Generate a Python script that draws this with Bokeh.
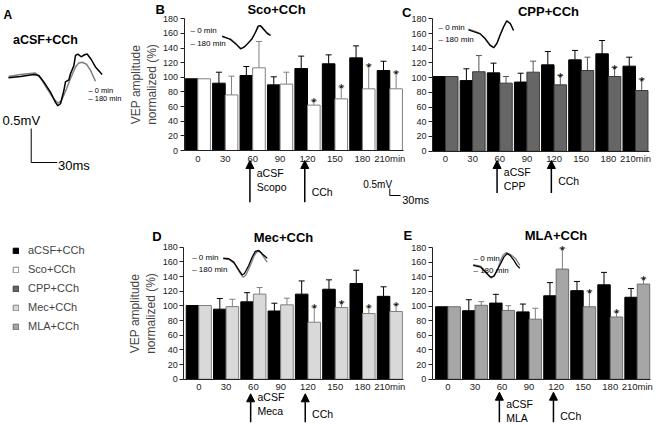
from bokeh.plotting import figure
from bokeh.models import (Range1d, LinearAxis, FixedTicker, ColumnDataSource, Whisker,
                          TeeHead, Arrow, NormalHead, Legend, LegendItem)
from bokeh.core.properties import value
from bokeh.embed import file_html
from bokeh.resources import INLINE

# ---------------- data ----------------
time_labels = ["0", "30", "60", "90", "120", "150", "180", "210min"]
y_ticks = [0, 20, 40, 60, 80, 100, 120, 140, 160, 180]
legend_labels = ["aCSF+CCh", "Sco+CCh", "CPP+CCh", "Mec+CCh", "MLA+CCh"]

# panel B: aCSF+CCh vs Sco+CCh
acsf_B = [98, 92, 102.5, 89.7, 112, 118.5, 126.6, 109.3]
acsf_B_err = [0, 15, 12.3, 11, 17, 12.2, 16.4, 12.7]
sco = [98, 76, 113, 90.7, 62, 70.6, 84.3, 84.3]
sco_err = [0, 25.6, 36, 16.3, 6, 16.4, 32.3, 22.7]
sco_sig = [0, 0, 0, 0, 1, 1, 1, 1]

# panel C: aCSF+CCh vs CPP+CCh
acsf_C = [101.5, 96, 106.5, 94, 117.4, 124.2, 132.4, 115.6]
acsf_C_err = [0, 16, 13.2, 12, 18.1, 12.8, 18.1, 12.2]
cpp = [101.5, 108, 92.5, 107.4, 90.2, 109.7, 101.5, 82.5]
cpp_err = [0, 22, 9, 15, 12.8, 18.1, 12.5, 15.5]
cpp_sig = [0, 0, 0, 0, 1, 0, 1, 1]

# panel D: aCSF+CCh vs Mec+CCh
acsf_D = [100.5, 95.5, 105.5, 93, 116, 122.7, 130.5, 113]
acsf_D_err = [0, 14.5, 12.5, 10.6, 18, 12.8, 18.1, 13]
mec = [100.5, 99, 116, 101.4, 77.7, 97.7, 89.5, 92.3]
mec_err = [0, 10, 9, 9.1, 20.9, 7.3, 9.1, 9.5]
mec_sig = [0, 0, 0, 0, 1, 1, 1, 1]

# panel E: aCSF+CCh vs MLA+CCh
acsf_E = [99, 93.6, 104, 92, 114, 121, 129, 112]
acsf_E_err = [0, 15, 12, 10.7, 18, 12.6, 17, 12]
mla = [99, 101, 94, 82, 150.5, 99, 85, 130]
mla_err = [0, 5, 6.5, 15, 28.5, 21.5, 7, 8]
mla_sig = [0, 0, 0, 0, 1, 1, 1, 1]

# panel A: VEP traces (ms, mV)
wave0_t = [0, 13.8, 29.2, 35, 40.7, 48.4, 54.2, 56.9, 60, 63.8, 65.7, 69.6, 71.5, 75.4,
           77.3, 80, 83.8, 87.7, 90.7, 95.4, 100.3, 108]
wave0_v = [-0.02, 0.0, 0.03, 0.015, -0.08, -0.23, -0.38, -0.43, -0.40, -0.21, -0.08, -0.05,
           0.04, 0.16, 0.31, 0.33, 0.29, 0.32, 0.33, 0.25, 0.14, 0.03]
wave180_t = [0, 13.8, 31.1, 36.9, 44.6, 52.3, 56.9, 60.8, 65.7, 71.5, 77.3, 81.1, 85, 90,
             94.6, 100.3]
wave180_v = [0.0, 0.03, 0.05, -0.02, -0.18, -0.33, -0.39, -0.36, -0.22, -0.03, 0.14, 0.20,
             0.21, 0.18, 0.09, -0.07]

# inset traces (relative units 0-100)
insB0_t = [0, 17, 28, 38, 45, 52, 62, 69, 74, 79, 86, 94, 100]
insB0_v = [54, 40, 21, 0, 7, 21, 43, 71, 97, 100, 83, 64, 57]
insB180_t = [0, 17, 31, 39, 48, 59, 67, 76, 83, 92, 100]
insB180_v = [51, 43, 17, 0, 11, 36, 64, 97, 93, 71, 60]
insC0_t = [0, 15, 26, 37, 48, 56, 63, 70, 78, 85, 93, 100]
insC0_v = [66, 57, 51, 33, 9, 0, 15, 45, 76, 98, 88, 63]
insC180_t = [0, 15, 26, 37, 48, 56, 63, 70, 78, 85, 93, 100]
insC180_v = [68, 60, 52, 35, 11, 2, 17, 48, 79, 100, 90, 65]
insD0_t = [0, 13, 24, 36, 43, 48, 58, 66, 73, 81, 89, 100]
insD0_v = [67, 65, 53, 24, 8, 12, 41, 71, 91, 94, 82, 67]
insD180_t = [0, 13, 26, 38, 45, 51, 61, 70, 77, 85, 92, 100]
insD180_v = [65, 62, 47, 15, 0, 6, 39, 74, 91, 88, 71, 53]
insE0_t = [0, 16, 26, 37, 44, 51, 59, 66, 73, 80, 87, 94, 100]
insE0_v = [50, 43, 24, 4, 7, 30, 57, 83, 96, 87, 70, 50, 39]
insE180_t = [0, 16, 29, 39, 46, 53, 59, 64, 71, 80, 91, 100]
insE180_v = [53, 47, 21, 0, 11, 37, 70, 89, 100, 92, 76, 50]

event_idx = [2, 4]  # 60 min and 120 min

# ---------------- layout helpers ----------------
X_LO, X_HI = 0.0, 662.0
Y_TOP, Y_BOT = 0.0, 425.0
W, H = 662, 425
FONT = "Liberation Sans"
BW = 0.46


def span(v1, p1, v2, p2, lo, hi):
    k = (v2 - v1) / (p2 - p1)
    return Range1d(start=v1 + (lo - p1) * k, end=v1 + (hi - p1) * k)


p = figure(width=W, height=H, x_range=Range1d(X_LO, X_HI), y_range=Range1d(Y_BOT, Y_TOP),
           x_axis_type=None, y_axis_type=None, toolbar_location=None,
           output_backend="svg", min_border=0, outline_line_color=None)


def txt(x, y, s, size="11px", style="normal", align="left", color="black",
        baseline="middle", xr="default", yr="default"):
    p.text(x=[x], y=[y], text=[s], text_font=value(FONT), text_font_size=size,
           text_font_style=style, text_align=align, text_baseline=baseline,
           text_color=color, x_range_name=xr, y_range_name=yr)


def add_panel(key, geo, ctrl, ctrl_err, trt, trt_err, sig, fill, line, err_col,
              ylabel, events, ev_y):
    c0, s, y0, y180, ax_x = geo
    p.extra_x_ranges[key] = span(0, c0, 1, c0 + s, X_LO, X_HI)
    p.extra_y_ranges[key] = span(0, y0, 180, y180, Y_BOT, Y_TOP)
    idx = list(range(len(ctrl)))
    xc = [i - BW / 2 for i in idx]
    xt = [i + BW / 2 for i in idx]
    src = ColumnDataSource(dict(xc=xc, xt=xt, ctrl=ctrl, trt=trt))
    rc = p.vbar(x="xc", top="ctrl", bottom=0, width=BW, source=src, fill_color="black",
                line_color="black", x_range_name=key, y_range_name=key)
    rt = p.vbar(x="xt", top="trt", bottom=0, width=BW, source=src, fill_color=fill,
                line_color=line, x_range_name=key, y_range_name=key)
    for xs, vals, errs, col in ((xc, ctrl, ctrl_err, "black"), (xt, trt, trt_err, err_col)):
        keep = [i for i in idx if errs[i] > 0]
        ws = ColumnDataSource(dict(x=[xs[i] for i in keep], lo=[vals[i] for i in keep],
                                   hi=[vals[i] + errs[i] for i in keep]))
        p.add_layout(Whisker(source=ws, base="x", lower="lo", upper="hi", dimension="height",
                             line_color=col, line_width=1, lower_head=None,
                             upper_head=TeeHead(size=6, line_color=col, line_width=1),
                             x_range_name=key, y_range_name=key))
    ks = [i for i in idx if sig[i]]
    p.text(x=[xt[i] for i in ks], y=[trt[i] + trt_err[i] for i in ks], text=["*"] * len(ks),
           text_font=value(FONT), text_font_size="13px", text_align="center",
           text_baseline="alphabetic", y_offset=2, x_range_name=key, y_range_name=key)

    yax = LinearAxis(x_range_name=key, y_range_name=key, fixed_location=ax_x, bounds=(0, 180),
                     ticker=FixedTicker(ticks=y_ticks), major_tick_out=4, major_tick_in=0,
                     minor_tick_line_color=None, axis_line_color="#222222",
                     major_tick_line_color="#222222", major_label_standoff=2,
                     major_label_text_font=FONT, major_label_text_font_size="9px",
                     major_label_text_color="#222222")
    if ylabel:
        yax.axis_label = ylabel
        yax.axis_label_text_font = FONT
        yax.axis_label_text_font_size = "12px"
        yax.axis_label_text_font_style = "normal"
        yax.axis_label_standoff = 1
    p.add_layout(yax, "left")
    xax = LinearAxis(x_range_name=key, y_range_name=key, fixed_location=0,
                     bounds=(ax_x, len(ctrl) - 0.5),
                     ticker=FixedTicker(ticks=idx),
                     major_label_overrides={i: lab for i, lab in enumerate(time_labels)},
                     major_tick_line_color=None, minor_tick_line_color=None,
                     major_tick_out=0, major_tick_in=0, minor_tick_out=0, minor_tick_in=0,
                     axis_line_color="#222222", major_label_standoff=2,
                     major_label_text_font=FONT, major_label_text_font_size="9.5px",
                     major_label_text_color="#222222")
    p.add_layout(xax, "below")

    # treatment arrows (60 min: drug, 120 min: CCh)
    y_bot, y_top, y_txt1, y_txt2 = ev_y
    for i in event_idx:
        p.add_layout(Arrow(x_start=i - 0.1, y_start=y_bot, x_end=i - 0.1, y_end=y_top,
                           line_width=1.5, line_color="black",
                           end=NormalHead(size=8, fill_color="black", line_color="black"),
                           x_range_name=key, y_range_name="default"))
    txt(event_idx[0] + 0.15, y_txt1, events[0], size="10.5px", baseline="top", xr=key)
    txt(event_idx[1] + 0.15, y_txt2, events[1], size="10.5px", baseline="middle", xr=key)
    return rc, rt


def add_inset(key, t0, v0, t1, v1, box, leg_xy):
    xa, xb, yb, yt = box
    p.extra_x_ranges[key] = span(0, xa, 100, xb, X_LO, X_HI)
    p.extra_y_ranges[key] = span(0, yb, 100, yt, Y_BOT, Y_TOP)
    p.line(t1, v1, line_color="#7f7f7f", line_width=1.3, x_range_name=key, y_range_name=key)
    p.line(t0, v0, line_color="black", line_width=1.3, x_range_name=key, y_range_name=key)
    lx, ly0, ly1 = leg_xy
    txt(lx, ly0, "\u2013 0 min", size="8px")
    txt(lx, ly1, "\u2013 180 min", size="8px")


# ---------------- panel A ----------------
p.extra_x_ranges["A"] = span(0, 8, 100, 94.7, X_LO, X_HI)
p.extra_y_ranges["A"] = span(1, 8, 0, 76, Y_BOT, Y_TOP)
p.line(wave180_t, wave180_v, line_color="#7f7f7f", line_width=1.5, x_range_name="A",
       y_range_name="A")
p.line(wave0_t, wave0_v, line_color="black", line_width=1.5, x_range_name="A",
       y_range_name="A")
# scale bar 0.5 mV / 30 ms
p.line([26.2, 26.2, 56.2], [-0.765, -1.265, -1.265], line_color="black", line_width=1,
       x_range_name="A", y_range_name="A")
txt(3, 14, "A", size="12px", style="bold")
txt(45, 39, "aCSF+CCh", size="12.5px", style="bold", align="center")
txt(88, 90, "\u2013 0 min", size="7.5px")
txt(88, 98, "\u2013 180 min", size="7.5px")
txt(2, 120, "0.5mV", size="13px")
txt(57.5, 165, "30ms", size="13px")

# ---------------- panels B-E ----------------
ylab = "VEP amplitude\nnormalized (%)"
rB_c, rB_t = add_panel("B", (197.3, 27.43, 150.0, 18.3, -0.5), acsf_B, acsf_B_err, sco, sco_err,
                       sco_sig, "white", "#808080", "#808080", ylab,
                       ["aCSF\nScopo", "CCh"], (201.7, 160, 166.5, 191.7))
rC_c, rC_t = add_panel("C", (445.0, 27.14, 150.7, 18.3, -0.48), acsf_C, acsf_C_err, cpp, cpp_err,
                       cpp_sig, "#666666", "#3a3a3a", "#555555", None,
                       ["aCSF\nCPP", "CCh"], (192.5, 160, 165.5, 180))
rD_c, rD_t = add_panel("D", (198.3, 27.29, 378.7, 246.7, -0.55), acsf_D, acsf_D_err, mec, mec_err,
                       mec_sig, "#d9d9d9", "#808080", "#808080", ylab,
                       ["aCSF\nMeca", "CCh"], (421.7, 393.3, 390.5, 413.3))
rE_c, rE_t = add_panel("E", (447.5, 27.04, 378.7, 247.0, -0.58), acsf_E, acsf_E_err, mla, mla_err,
                       mla_sig, "#a6a6a6", "#6e6e6e", "#808080", None,
                       ["aCSF\nMLA", "CCh"], (421.7, 391.7, 397.5, 415))

# panel titles and letters
txt(155, 9, "B", size="13px", style="bold")
txt(276, 9, "Sco+CCh", size="13px", style="bold", align="center")
txt(401.5, 11.5, "C", size="13px", style="bold")
txt(548, 11, "CPP+CCh", size="13px", style="bold", align="center")
txt(151.7, 236, "D", size="13px", style="bold")
txt(283, 236.7, "Mec+CCh", size="13px", style="bold", align="center")
txt(403, 235, "E", size="13px", style="bold")
txt(555.5, 235, "MLA+CCh", size="13px", style="bold", align="center")

# insets
add_inset("iB", insB0_t, insB0_v, insB180_t, insB180_v, (221.7, 270, 48.3, 25), (190, 30, 43.3))
add_inset("iC", insC0_t, insC0_v, insC180_t, insC180_v, (468, 513, 47.3, 20), (438, 26.7, 39.3))
add_inset("iD", insD0_t, insD0_v, insD180_t, insD180_v, (222.7, 266.7, 276.7, 248.3),
          (191.7, 256.7, 269))
add_inset("iE", insE0_t, insE0_v, insE180_t, insE180_v, (472.7, 519.3, 277.7, 252),
          (473, 258, 270))

# inset scale bar
p.line([389.3, 389.3, 400], [188, 195, 195], line_color="black", line_width=1)
txt(362.7, 184, "0.5mV", size="10px")
txt(401.7, 199, "30ms", size="11px")

# legend
legend = Legend(items=[LegendItem(label=legend_labels[0], renderers=[rB_c]),
                       LegendItem(label=legend_labels[1], renderers=[rB_t]),
                       LegendItem(label=legend_labels[2], renderers=[rC_t]),
                       LegendItem(label=legend_labels[3], renderers=[rD_t]),
                       LegendItem(label=legend_labels[4], renderers=[rE_t])],
                location=(12, 93), orientation="vertical", glyph_width=7, glyph_height=7,
                label_standoff=9, label_text_font=FONT, label_text_font_size="11px",
                label_height=12, spacing=7, padding=0, margin=0,
                border_line_color=None, background_fill_alpha=0)
p.add_layout(legend)

open("out.html", "w").write(file_html(p, INLINE))
